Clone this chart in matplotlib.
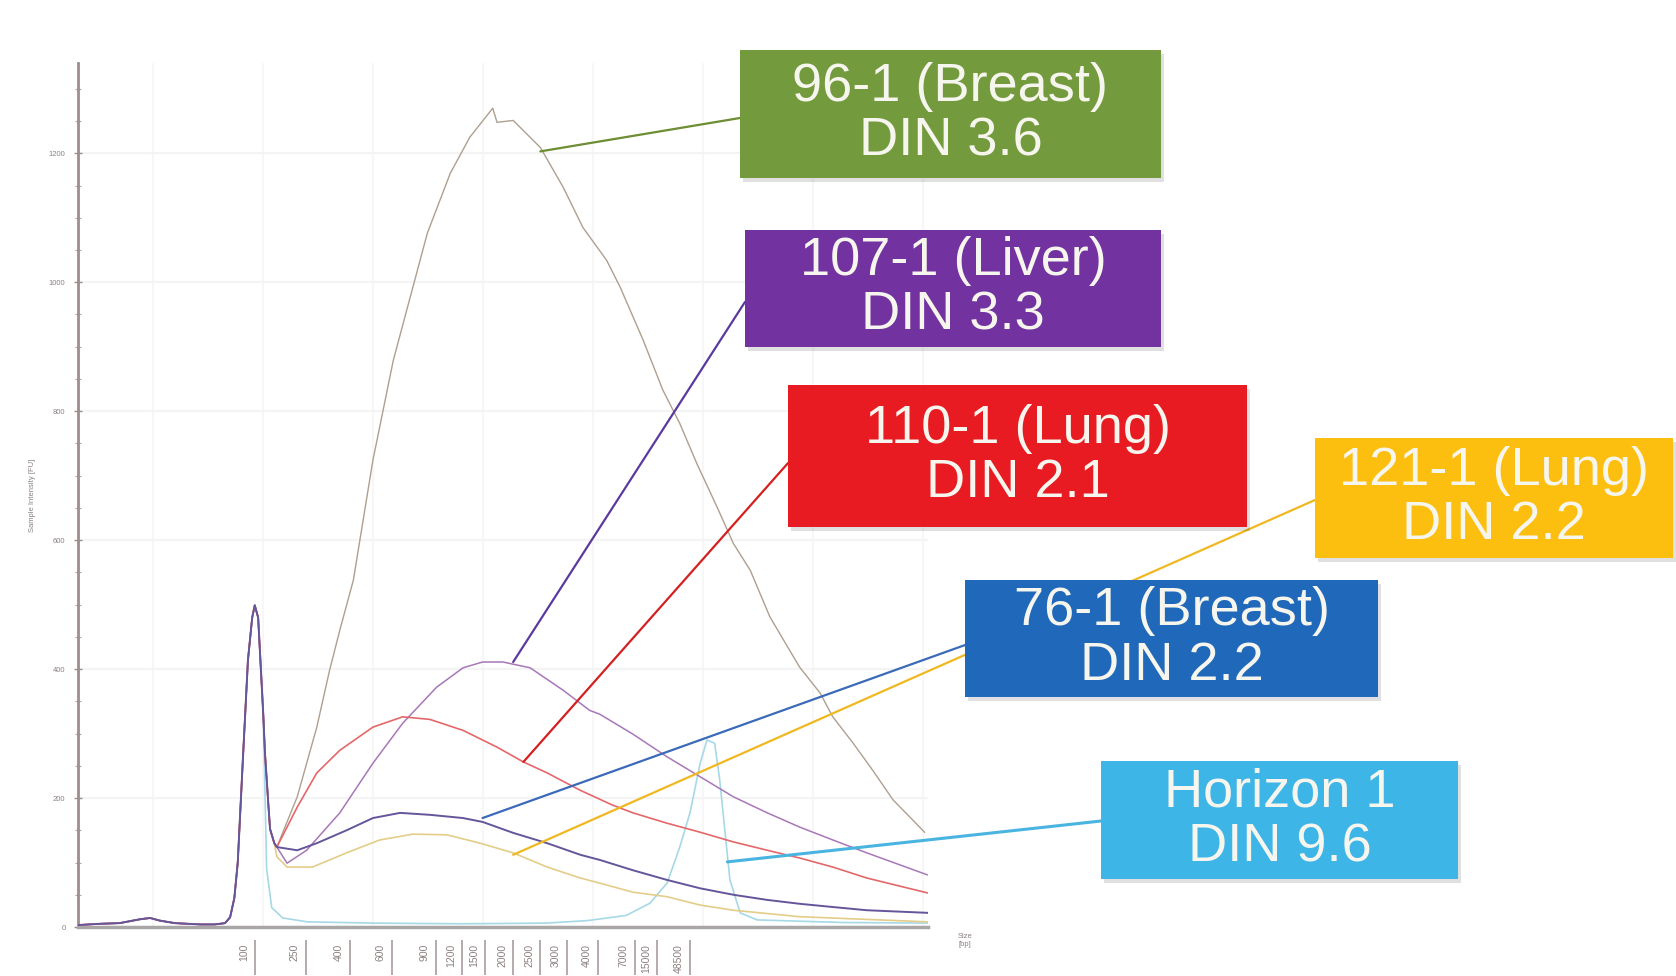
import numpy as np
import matplotlib.pyplot as plt
import matplotlib.transforms as mtransforms
from matplotlib.patches import Rectangle, ConnectionPatch
from matplotlib.ticker import MultipleLocator, FixedLocator

plt.rcParams['font.family'] = ['Liberation Sans', 'DejaVu Sans']

# x = relative run position (% of the plotted range), y = sample intensity [FU]
# lower marker, common to every trace
marker_pos = [0, 2.6, 4.9, 7.3, 8.5, 9.6, 11.4, 14.4, 16.1, 17.3, 17.9, 18.4, 18.8,
              19.4, 20.0, 20.5, 20.8, 21.2, 21.4, 21.8]
marker_int = [3, 5, 6, 12, 14, 10, 6, 4, 4, 6, 15, 45, 100, 259, 414, 480, 499, 480, 430, 330]
# falling edge of the marker for the five samples
dip_pos = [22.0, 22.4, 22.6, 23.1]
dip_int = [270, 190, 152, 130]

pos_96 = [23.4, 25.8, 28.1, 29.6, 30.8, 32.4, 34.7, 37.1, 41.1, 43.8, 46.1, 48.8, 49.3, 51.2,
          54.4, 57.1, 59.4, 62.2, 63.8, 66.5, 68.8, 70.8, 72.8, 75.2, 77.1, 79.1, 81.4, 84.9,
          87.3, 88.8, 91.2, 93.5, 95.9, 98.2, 99.6]
int_96 = [124, 202, 310, 398, 460, 538, 724, 879, 1076, 1169, 1225, 1270, 1248, 1251,
          1209, 1147, 1085, 1034, 992, 910, 833, 781, 719, 651, 595, 553, 481, 403,
          363, 326, 285, 243, 197, 166, 147]

pos_107 = [23.4, 24.6, 26.9, 30.8, 34.7, 38.2, 42.2, 45.3, 47.6, 50.0, 53.2, 57.1, 60.2, 61.4,
           65.3, 69.3, 73.2, 77.1, 81.1, 84.9, 88.8, 92.8, 99.9]
int_107 = [124, 99, 119, 177, 254, 316, 372, 402, 411, 411, 402, 367, 336, 330,
           299, 264, 233, 202, 177, 155, 135, 115, 81]

pos_110 = [23.4, 25.8, 28.1, 30.8, 34.7, 38.2, 41.4, 45.3, 49.3, 52.4, 55.2, 59.1, 62.9, 65.3,
           69.3, 73.2, 77.1, 81.1, 84.9, 88.8, 92.8, 99.9]
int_110 = [124, 186, 239, 274, 310, 326, 322, 305, 279, 256, 239, 212, 189, 177,
           161, 147, 132, 119, 107, 93, 76, 53]

pos_76 = [23.4, 25.8, 28.1, 31.6, 34.7, 37.9, 41.4, 45.3, 47.6, 51.2, 55.2, 59.1, 61.4, 65.3,
          69.3, 73.2, 77.1, 81.1, 84.9, 88.8, 92.8, 99.9]
int_76 = [124, 119, 130, 150, 169, 177, 174, 169, 163, 146, 130, 112, 104, 88,
          73, 60, 50, 42, 36, 31, 26, 22]

pos_121 = [23.4, 24.6, 27.6, 31.6, 35.5, 39.4, 43.4, 47.3, 51.2, 55.2, 59.1, 61.4, 65.3, 69.3,
           73.2, 77.1, 84.9, 99.9]
int_121 = [109, 93, 93, 115, 135, 144, 143, 130, 115, 93, 76, 68, 54, 47, 34, 26, 16, 8]

pos_hz = [22.2, 22.8, 24.1, 27.0, 35, 45, 55, 60.0, 64.5, 67.3, 69.3, 70.8, 72.0, 73.2, 74.0,
          74.9, 75.5, 76.1, 76.7, 77.9, 79.9, 90, 100]
int_hz = [90, 30, 14, 8, 6, 5, 6, 10, 18, 37, 68, 124, 177, 254, 290,
          285, 228, 150, 73, 22, 11, 7, 6]

ladder_bp = ['100', '250', '400', '600', '900', '1200', '1500', '2000', '2500', '3000',
             '4000', '7000', '15000', '48500']
ladder_pos = [20.8, 26.8, 32.0, 36.9, 42.1, 45.2, 47.9, 51.2, 54.4, 57.5, 61.2, 65.5, 68.1, 72.0]

sample_labels = ['96-1 (Breast)\nDIN 3.6', '107-1 (Liver)\nDIN 3.3', '110-1 (Lung)\nDIN 2.1',
                 '121-1 (Lung)\nDIN 2.2', '76-1 (Breast)\nDIN 2.2', 'Horizon 1\nDIN 9.6']
# point on each trace where the callout line starts
anchor_pos = [54.4, 51.2, 52.4, 51.2, 47.6, 76.4]
anchor_int = [1203, 411, 256, 112, 169, 101]

fig = plt.figure(figsize=(16.76, 9.76), dpi=100)
ax = fig.add_axes([0.0465, 0.0502, 0.5072, 0.8852])

trace_cols = {'hz': '#a6d8e6', '96': '#ae9f90', '121': '#e3cd88', '107': '#a877b8',
              '110': '#e4676a', '76': '#65559a'}

ax.plot(marker_pos + pos_hz, marker_int + int_hz, color=trace_cols['hz'], lw=1.2, zorder=2)
ax.plot(marker_pos + dip_pos + pos_96, marker_int + dip_int + int_96, color=trace_cols['96'], lw=1.0, zorder=3)
ax.plot(marker_pos + dip_pos + pos_121, marker_int + dip_int + int_121, color=trace_cols['121'], lw=1.2, zorder=3)
ax.plot(marker_pos + dip_pos + pos_107, marker_int + dip_int + int_107, color=trace_cols['107'], lw=1.1, zorder=3)
ax.plot(marker_pos + dip_pos + pos_110, marker_int + dip_int + int_110, color=trace_cols['110'], lw=1.2, zorder=3)
ax.plot(marker_pos + dip_pos + pos_76, marker_int + dip_int + int_76, color=trace_cols['76'], lw=1.4, zorder=4)

ax.set_xlim(0, 100)
ax.set_ylim(0, 1340)

# y axis
ax.set_yticks(range(0, 1201, 200))
ax.yaxis.set_minor_locator(MultipleLocator(50))
ax.tick_params(axis='y', which='major', direction='inout', length=6, width=1,
               color='#9d8d8d', labelsize=5.5, labelcolor='#8c8080', pad=6)
ax.tick_params(axis='y', which='minor', direction='inout', length=4, width=0.8, color='#b0a4a4')
ax.set_ylabel('Sample Intensity [FU]', fontsize=5.5, color='#8c8080', labelpad=9)

# x axis: ladder sizes
ax.set_xticks(ladder_pos)
ax.set_xticklabels(ladder_bp, rotation=90, fontsize=7.5, color='#8c8080')
ax.tick_params(axis='x', which='major', length=0, pad=12)
shift = mtransforms.ScaledTranslation(-0.11, 0, fig.dpi_scale_trans)
for lbl in ax.get_xticklabels():
    lbl.set_transform(lbl.get_transform() + shift)
ax.vlines(ladder_pos, -0.015, -0.056, transform=ax.get_xaxis_transform(),
          colors='#a89c9c', lw=1.2, clip_on=False)
ax.xaxis.set_minor_locator(FixedLocator(np.arange(8.8, 100, 12.94)))
ax.tick_params(axis='x', which='minor', length=0)

ax.grid(axis='y', which='major', color='#f4f4f4', lw=1.5)
ax.grid(axis='x', which='minor', color='#f7f7f7', lw=1.5)
ax.set_axisbelow(True)

for s in ['top', 'right']:
    ax.spines[s].set_visible(False)
ax.spines['left'].set_color('#9d8d8d')
ax.spines['left'].set_linewidth(2)
ax.spines['bottom'].set_color('#aaa6a6')
ax.spines['bottom'].set_linewidth(2.5)

fig.text(965 / 1676, 1 - 941 / 976, 'Size\n[bp]', fontsize=5.5, color='#8c8080',
         ha='center', va='center')

# callout boxes (figure fractions: x, y, w, h) and where the line meets the box
box_geo = [(0.4415, 0.8176, 0.2512, 0.1311),
           (0.4445, 0.6445, 0.2482, 0.1199),
           (0.4702, 0.4600, 0.2739, 0.1455),
           (0.7846, 0.4283, 0.2136, 0.1230),
           (0.5758, 0.2859, 0.2464, 0.1199),
           (0.6569, 0.0994, 0.2130, 0.1209)]
box_hit = [(0.4415, 0.8791), (0.4445, 0.6906), (0.4702, 0.5256),
           (0.7846, 0.4877), (0.5758, 0.3391), (0.6569, 0.1588)]
box_cols = ['#739a3d', '#7232a0', '#e81a22', '#fdbf0f', '#1f68ba', '#3db5e6']
line_cols = ['#6e8c32', '#5b3a9e', '#d42020', '#f0b820', '#3a6ab8', '#4ab4e0']
line_w = [1.6, 1.6, 1.6, 1.6, 1.6, 2.2]

for i, lab in enumerate(sample_labels):
    con = ConnectionPatch(xyA=(anchor_pos[i], anchor_int[i]), coordsA=ax.transData,
                          xyB=box_hit[i], coordsB=fig.transFigure,
                          color=line_cols[i], lw=line_w[i], zorder=3)
    fig.add_artist(con)
    x, y, w, h = box_geo[i]
    fig.add_artist(Rectangle((x + 0.002, y - 0.004), w, h, transform=fig.transFigure,
                             facecolor='#000000', alpha=0.12, edgecolor='none', zorder=4))
    fig.add_artist(Rectangle((x, y), w, h, transform=fig.transFigure,
                             facecolor=box_cols[i], edgecolor='none', zorder=5))
    fig.text(x + w / 2, y + h / 2, lab, ha='center', va='center', fontsize=39,
             color='#f6f5ee', linespacing=1.12, zorder=6)

fig.savefig('out.png', dpi=100)
